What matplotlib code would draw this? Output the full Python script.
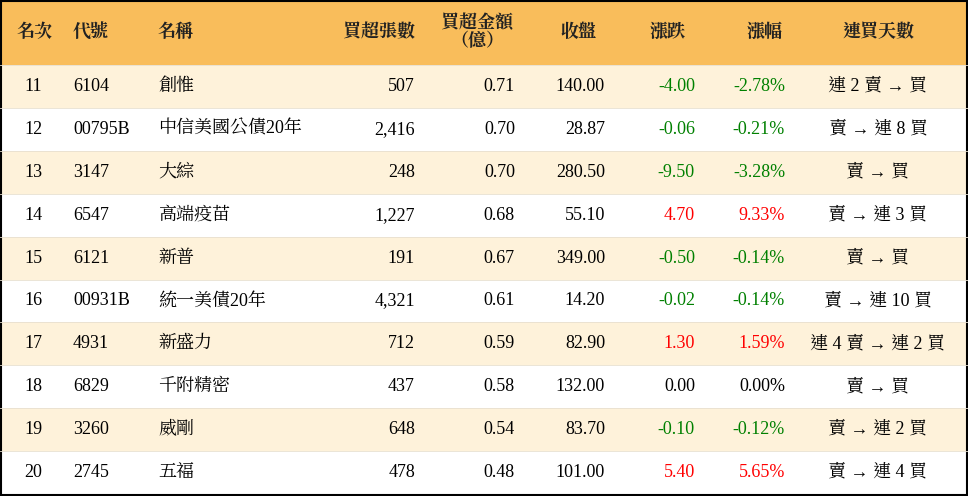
import matplotlib.pyplot as plt
from matplotlib.patches import Rectangle

ranks = [11, 12, 13, 14, 15, 16, 17, 18, 19, 20]
codes = ["6104", "00795B", "3147", "6547", "6121", "00931B", "4931", "6829", "3260", "2745"]
names = ["創惟", "中信美國公債20年", "大綜", "高端疫苗", "新普", "統一美債20年", "新盛力", "千附精密", "威剛", "五福"]
net_lots = [507, 2416, 248, 1227, 191, 4321, 712, 437, 648, 478]
net_amount = [0.71, 0.70, 0.70, 0.68, 0.67, 0.61, 0.59, 0.58, 0.54, 0.48]
close = [140.00, 28.87, 280.50, 55.10, 349.00, 14.20, 82.90, 132.00, 83.70, 101.00]
change = [-4.00, -0.06, -9.50, 4.70, -0.50, -0.02, 1.30, 0.00, -0.10, 5.40]
pct = [-2.78, -0.21, -3.28, 9.33, -0.14, -0.14, 1.59, 0.00, -0.12, 5.65]
streak = ["連 2 賣 → 買", "賣 → 連 8 買", "賣 → 買", "賣 → 連 3 買", "賣 → 買",
          "賣 → 連 10 買", "連 4 賣 → 連 2 買", "賣 → 買", "賣 → 連 2 買", "賣 → 連 4 買"]
headers = ["名次", "代號", "名稱", "買超張數", "買超金額\n（億）", "收盤", "漲跌", "漲幅", "連買天數"]

W, H = 968, 496
fig = plt.figure(figsize=(W / 100, H / 100), dpi=100)
ax = fig.add_axes([0, 0, 1, 1])
ax.set_xlim(0, W)
ax.set_ylim(H, 0)
ax.axis("off")

FONT = ["Liberation Serif", "Noto Serif CJK TC", "Noto Sans CJK TC"]
FS = 13
header_h = 65
row_h = (H - 2 - header_h) / len(ranks)

ax.add_patch(Rectangle((0, 0), W, header_h, color="#F9BD5B", lw=0))
for i in range(len(ranks)):
    y0 = header_h + i * row_h
    ax.add_patch(Rectangle((0, y0), W, row_h, color="#FEF2DA" if i % 2 == 0 else "white", lw=0))
    ax.plot([0, W], [y0, y0], color="#E8E0D0", lw=0.6)
ax.add_patch(Rectangle((1, 1), W - 2, H - 2, fill=False, ec="black", lw=1.5))

hy = 32
hdr_pos = [(35, "center"), (73, "left"), (158, "left"), (415, "right"), (477, "center"),
           (578, "center"), (668, "center"), (765, "center"), (878, "center")]
for (x, ha), t in zip(hdr_pos, headers):
    ax.text(x, hy, t, ha=ha, va="center", fontsize=FS, family=FONT, fontweight="bold",
            color="#222222", linespacing=1.0)

def col(v):
    return "#008000" if v < 0 else ("#FF0000" if v > 0 else "black")

for i in range(len(ranks)):
    y = header_h + (i + 0.5) * row_h
    kw = dict(va="center", fontsize=FS, family=FONT)
    ax.text(33, y, str(ranks[i]), ha="center", **kw)
    ax.text(73, y, codes[i], ha="left", **kw)
    ax.text(158, y, names[i], ha="left", **kw)
    ax.text(415, y, f"{net_lots[i]:,}", ha="right", **kw)
    ax.text(515, y, f"{net_amount[i]:.2f}", ha="right", **kw)
    ax.text(605, y, f"{close[i]:.2f}", ha="right", **kw)
    ax.text(695, y, f"{change[i]:.2f}", ha="right", color=col(change[i]), **kw)
    ax.text(785, y, f"{pct[i]:.2f}%", ha="right", color=col(pct[i]), **kw)
    ax.text(878, y, streak[i], ha="center", **kw)

fig.savefig("out.png", dpi=100)
